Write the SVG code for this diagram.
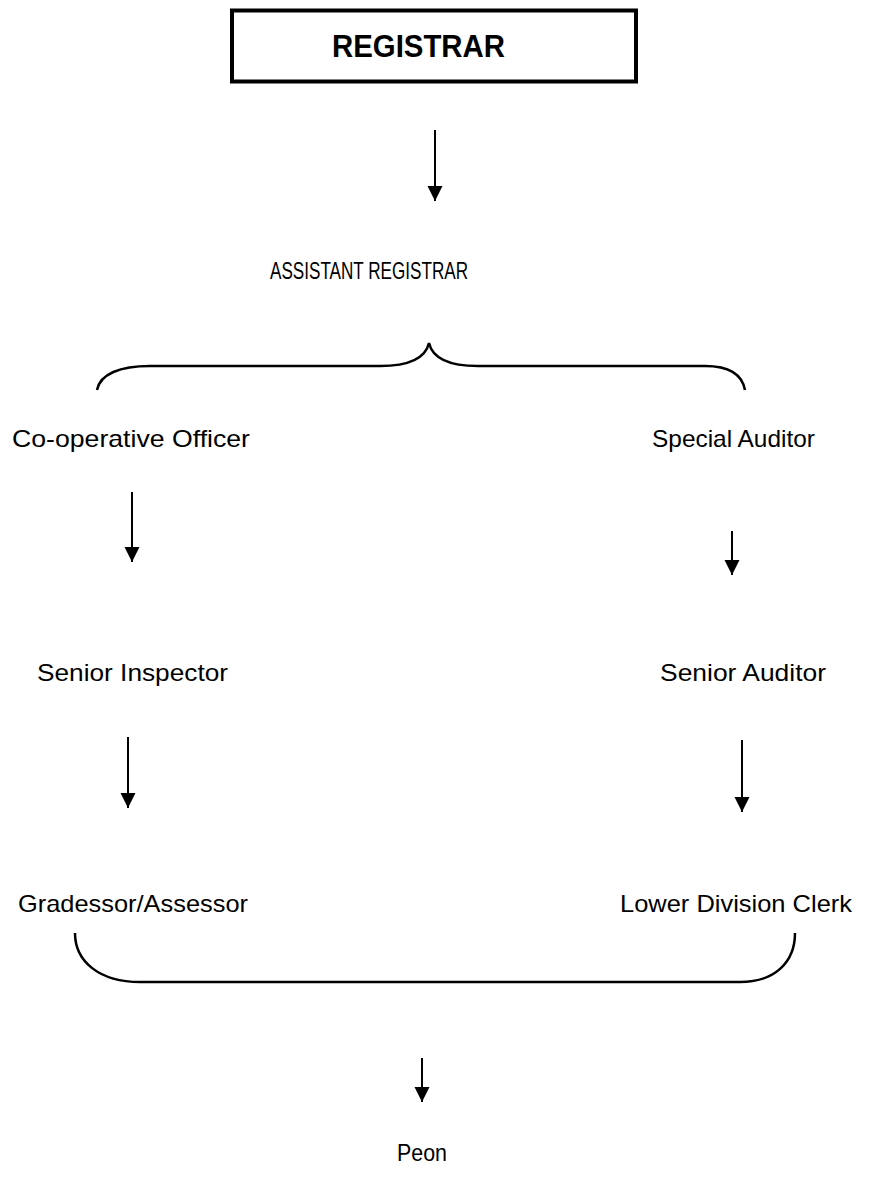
<svg xmlns="http://www.w3.org/2000/svg" width="869" height="1193" viewBox="0 0 869 1193">
<style>
.t{font-family:"Liberation Sans",Arial,sans-serif;font-size:24px;fill:#000}
.b{font-weight:bold;font-size:31px}
.c{stroke:#000;stroke-width:2;fill:none}
.br{stroke:#000;stroke-width:2.5;fill:none}
</style>
<defs>
<marker id="ah" markerUnits="userSpaceOnUse" markerWidth="16" markerHeight="16" refX="15" refY="7.5" orient="auto">
<path d="M0,0 L15,7.5 L0,15 z" fill="#000"/>
</marker>
</defs>
<rect width="869" height="1193" fill="#fff"/>
<g id="registrar">
<rect x="232" y="10.5" width="404" height="71" fill="none" stroke="#000" stroke-width="4"/>
<text class="t b" x="332" y="57" textLength="173" lengthAdjust="spacingAndGlyphs">REGISTRAR</text>
</g>
<g id="assistant-registrar"><text class="t" x="270" y="279" textLength="198" lengthAdjust="spacingAndGlyphs">ASSISTANT REGISTRAR</text></g>
<g id="cooperative-officer"><text class="t" x="12" y="447" textLength="238" lengthAdjust="spacingAndGlyphs">Co-operative Officer</text></g>
<g id="special-auditor"><text class="t" x="652" y="447" textLength="163" lengthAdjust="spacingAndGlyphs">Special Auditor</text></g>
<g id="senior-inspector"><text class="t" x="37" y="681" textLength="191" lengthAdjust="spacingAndGlyphs">Senior Inspector</text></g>
<g id="senior-auditor"><text class="t" x="660" y="681" textLength="166" lengthAdjust="spacingAndGlyphs">Senior Auditor</text></g>
<g id="gradessor-assessor"><text class="t" x="18" y="912" textLength="230" lengthAdjust="spacingAndGlyphs">Gradessor/Assessor</text></g>
<g id="lower-division-clerk"><text class="t" x="620" y="912" textLength="232" lengthAdjust="spacingAndGlyphs">Lower Division Clerk</text></g>
<g id="peon"><text class="t" x="397" y="1161" textLength="50" lengthAdjust="spacingAndGlyphs">Peon</text></g>
<g id="connectors">
<line class="c" x1="435" y1="130" x2="435" y2="201" marker-end="url(#ah)"/>
<path class="br" d="M97,390 C100,374 120,366 150,366 L380,366 C405,366 425,360 429,343 C433,360 453,366 478,366 L705,366 C728,366 742,374 745,390"/>
<line class="c" x1="132" y1="492" x2="132" y2="562" marker-end="url(#ah)"/>
<line class="c" x1="732" y1="531" x2="732" y2="575" marker-end="url(#ah)"/>
<line class="c" x1="128" y1="737" x2="128" y2="808" marker-end="url(#ah)"/>
<line class="c" x1="742" y1="740" x2="742" y2="812" marker-end="url(#ah)"/>
<path class="br" d="M75,933 C75,962 100,982 140,982 L740,982 C775,982 795,962 795,933"/>
<line class="c" x1="422" y1="1058" x2="422" y2="1102" marker-end="url(#ah)"/>
</g>
</svg>
